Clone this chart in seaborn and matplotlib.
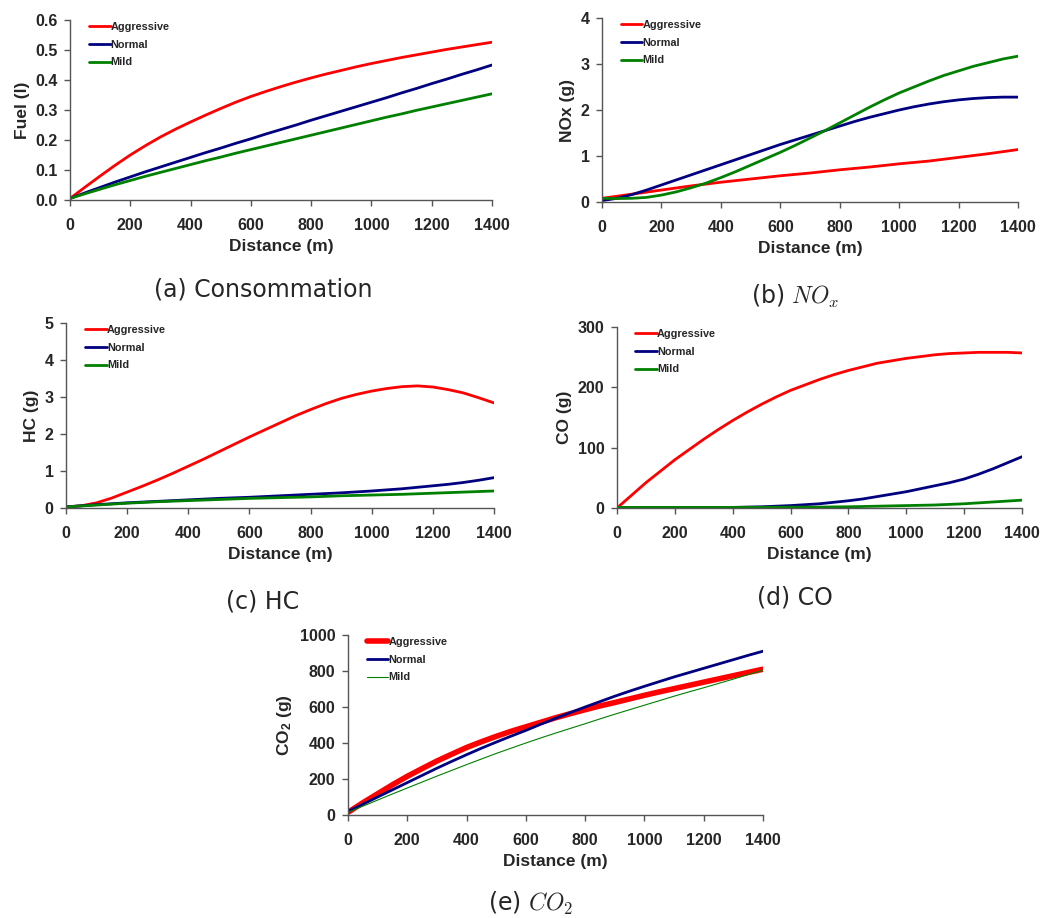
import numpy as np
import pandas as pd
import matplotlib
matplotlib.use("Agg")
import matplotlib.pyplot as plt
import seaborn as sns

distance = [0, 50, 100, 150, 200, 250, 300, 350, 400, 450, 500, 550, 600, 650, 700,
            750, 800, 850, 900, 950, 1000, 1050, 1100, 1150, 1200, 1250, 1300, 1350, 1400]
profiles = ["Aggressive", "Normal", "Mild"]

fuel_aggressive = [0.005, 0.043, 0.08, 0.116, 0.15, 0.181, 0.21, 0.236, 0.26, 0.283, 0.305, 0.326, 0.345, 0.362, 0.378,
                   0.393, 0.407, 0.42, 0.432, 0.444, 0.455, 0.465, 0.475, 0.484, 0.493, 0.502, 0.51, 0.518, 0.526]
fuel_normal = [0.005, 0.024, 0.042, 0.06, 0.077, 0.094, 0.11, 0.126, 0.142, 0.158, 0.173, 0.189, 0.204, 0.22, 0.235,
               0.25, 0.266, 0.281, 0.296, 0.311, 0.326, 0.341, 0.357, 0.372, 0.388, 0.403, 0.419, 0.434, 0.45]
fuel_mild = [0.005, 0.021, 0.036, 0.051, 0.065, 0.079, 0.092, 0.105, 0.118, 0.131, 0.143, 0.156, 0.168, 0.18, 0.192,
             0.204, 0.216, 0.228, 0.24, 0.252, 0.264, 0.276, 0.287, 0.299, 0.31, 0.321, 0.332, 0.343, 0.354]

nox_aggressive = [0.08, 0.125, 0.17, 0.215, 0.26, 0.305, 0.35, 0.39, 0.43, 0.465, 0.5, 0.535, 0.57, 0.6, 0.63,
                  0.665, 0.7, 0.73, 0.76, 0.795, 0.83, 0.86, 0.89, 0.93, 0.97, 1.01, 1.05, 1.095, 1.14]
nox_normal = [0.03, 0.08, 0.16, 0.26, 0.37, 0.48, 0.59, 0.7, 0.81, 0.92, 1.03, 1.14, 1.25, 1.35, 1.45,
              1.55, 1.65, 1.75, 1.84, 1.92, 2.0, 2.07, 2.13, 2.18, 2.22, 2.25, 2.27, 2.28, 2.28]
nox_mild = [0.08, 0.075, 0.08, 0.1, 0.15, 0.22, 0.31, 0.41, 0.53, 0.66, 0.8, 0.94, 1.08, 1.23, 1.39,
            1.55, 1.72, 1.89, 2.06, 2.22, 2.37, 2.5, 2.63, 2.75, 2.85, 2.95, 3.03, 3.11, 3.17]

hc_aggressive = [0.03, 0.06, 0.14, 0.27, 0.43, 0.59, 0.76, 0.94, 1.13, 1.32, 1.52, 1.72, 1.92, 2.11, 2.3,
                 2.49, 2.66, 2.82, 2.96, 3.07, 3.16, 3.23, 3.28, 3.3, 3.27, 3.2, 3.11, 2.98, 2.84]
hc_normal = [0.03, 0.06, 0.09, 0.115, 0.14, 0.16, 0.18, 0.2, 0.22, 0.24, 0.26, 0.275, 0.29, 0.31, 0.33,
             0.35, 0.37, 0.39, 0.41, 0.435, 0.46, 0.49, 0.52, 0.56, 0.6, 0.64, 0.69, 0.75, 0.82]
hc_mild = [0.03, 0.055, 0.08, 0.105, 0.13, 0.15, 0.17, 0.185, 0.2, 0.215, 0.23, 0.245, 0.26, 0.27, 0.28,
           0.29, 0.3, 0.315, 0.33, 0.34, 0.35, 0.36, 0.37, 0.385, 0.4, 0.415, 0.43, 0.445, 0.46]

co_aggressive = [0, 21, 42, 61, 80, 97, 114, 130, 145, 159, 172, 184, 195, 204, 213,
                 221, 228, 234, 240, 244, 248, 251, 254, 256, 257, 258, 258, 258, 257]
co_normal = [0, 0, 0, 0, 0, 0.3, 0.5, 0.7, 1, 1.5, 2, 3, 4, 5.5, 7,
             9.5, 12, 15, 19, 23, 27, 32, 37, 42, 48, 56, 65, 75, 85]
co_mild = [1, 1, 1, 1, 1, 1, 1, 1, 1, 1.1, 1.2, 1.3, 1.4, 1.5, 1.5,
           1.8, 2, 2.5, 3, 3.5, 4, 4.5, 5, 6, 7, 8.5, 10, 11.5, 13]

co2_aggressive = [15, 68, 118, 168, 215, 258, 300, 338, 375, 407, 437, 465, 490, 515, 540,
                  563, 585, 606, 625, 645, 665, 684, 702, 720, 738, 756, 774, 792, 810]
co2_normal = [20, 60, 100, 140, 180, 220, 260, 298, 335, 371, 405, 438, 470, 504, 537,
              569, 600, 630, 660, 688, 715, 741, 767, 791, 815, 839, 863, 887, 910]
co2_mild = [15, 49, 83, 117, 150, 183, 216, 248, 280, 311, 342, 371, 400, 428, 455,
            481, 507, 534, 560, 585, 610, 635, 660, 684, 707, 731, 755, 780, 805]

sns.set_style("ticks")
plt.rcParams["font.family"] = ["Liberation Sans", "DejaVu Sans"]
plt.rcParams["mathtext.fontset"] = "custom"
plt.rcParams["mathtext.rm"] = "Liberation Sans:bold"
plt.rcParams["mathtext.it"] = "Liberation Sans:bold"
plt.rcParams["mathtext.bf"] = "Liberation Sans:bold"

colors = {"Aggressive": "#FF0000", "Normal": "#000080", "Mild": "#008000"}

W, H = 1054, 918
fig = plt.figure(figsize=(W / 100, H / 100), dpi=100)


def add_ax(x0, y0, x1, y1):
    return fig.add_axes([x0 / W, (H - y1) / H, (x1 - x0) / W, (y1 - y0) / H])


def panel(ax, series, ylabel, ymax, ystep, fmt, widths=None, leg_anchor=(0.04, 1.0)):
    if widths is None:
        widths = {p: 2.0 for p in profiles}
    for p, vals in zip(profiles, series):
        df = pd.DataFrame({"Distance": distance, "Value": vals})
        sns.lineplot(data=df, x="Distance", y="Value", ax=ax, color=colors[p],
                     linewidth=widths[p], label=p, estimator=None)
    ax.set_xlim(0, 1400)
    ax.set_ylim(0, ymax)
    ax.set_xticks(np.arange(0, 1401, 200))
    yt = np.arange(0, ymax + ystep / 2, ystep)
    ax.set_yticks(yt)
    ax.set_yticklabels([fmt.format(v) for v in yt])
    ax.set_xlabel("Distance (m)", fontsize=12.5, fontweight="bold", labelpad=4)
    ax.set_ylabel(ylabel, fontsize=12.5, fontweight="bold", labelpad=4)
    for lab in ax.get_xticklabels() + ax.get_yticklabels():
        lab.set_fontweight("bold")
        lab.set_fontsize(11.5)
    ax.tick_params(axis="both", length=4, width=1, color="#555555")
    ax.tick_params(axis="x", pad=9)
    ax.tick_params(axis="y", pad=5)
    for s in ["top", "right"]:
        ax.spines[s].set_visible(False)
    for s in ["left", "bottom"]:
        ax.spines[s].set_color("#555555")
        ax.spines[s].set_linewidth(1)
    ax.legend(loc="upper left", bbox_to_anchor=leg_anchor, frameon=False,
              prop={"weight": "bold", "size": 7.8}, handlelength=2.0,
              handletextpad=0.0, labelspacing=0.7, borderpad=0.2, borderaxespad=0)
    return ax


ax_a = add_ax(70, 20, 492, 200)
panel(ax_a, [fuel_aggressive, fuel_normal, fuel_mild], "Fuel (l)", 0.6, 0.1, "{:.1f}")

ax_b = add_ax(602, 18, 1018, 202)
panel(ax_b, [nox_aggressive, nox_normal, nox_mild], "NOx (g)", 4, 1, "{:.0f}")

ax_c = add_ax(66, 323, 494, 508)
panel(ax_c, [hc_aggressive, hc_normal, hc_mild], "HC (g)", 5, 1, "{:.0f}")

ax_d = add_ax(617, 327, 1022, 508)
panel(ax_d, [co_aggressive, co_normal, co_mild], "CO (g)", 300, 100, "{:.0f}")

ax_e = add_ax(348, 635, 763, 815)
panel(ax_e, [co2_aggressive, co2_normal, co2_mild], r"CO$_\mathrm{2}$ (g)", 1000, 200, "{:.0f}",
      widths={"Aggressive": 4.0, "Normal": 2.0, "Mild": 0.8})

cap_kw = dict(fontsize=17, ha="center", va="center", family="DejaVu Sans", math_fontfamily="cm")
fig.text(263 / W, 1 - 290 / H, "(a) Consommation", **cap_kw)
fig.text(795 / W, 1 - 296 / H, r"(b) $NO_x$", **cap_kw)
fig.text(263 / W, 1 - 602 / H, "(c) HC", **cap_kw)
fig.text(795 / W, 1 - 598 / H, "(d) CO", **cap_kw)
fig.text(530 / W, 1 - 903 / H, r"(e) $CO_2$", **cap_kw)

fig.savefig("out.png", dpi=100)
